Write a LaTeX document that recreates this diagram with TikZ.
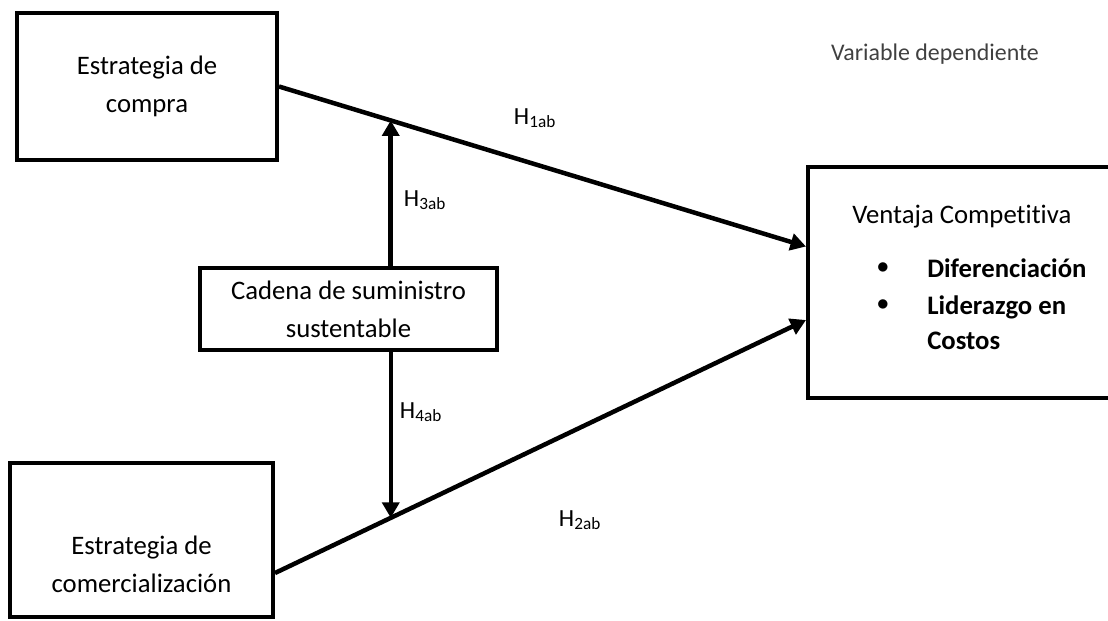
\documentclass[tikz,border=0pt]{standalone}
\usepackage{fontspec}
\setmainfont{Carlito}[Ligatures=NoCommon]
\usetikzlibrary{shapes,arrows,arrows.meta,positioning,calc}

\tikzset{
  caja/.style={draw, rectangle, line width=2.8pt, align=center, inner sep=0pt},
  flecha/.style={-{Triangle[length=11pt,width=12pt]}, line width=3.2pt},
  etiqueta/.style={inner sep=0pt}
}

\begin{document}
\begin{tikzpicture}[x=0.025cm, y=-0.025cm, font=\fontsize{19}{27}\selectfont]
\clip (0,0) rectangle (1108,620);

% Define nodes
\node[caja, minimum width=6.5cm, minimum height=3.675cm] (compra) at (147,86.5) {Estrategia de\\compra};
\node[caja, minimum width=6.575cm, minimum height=3.85cm] (comer) at (141.5,540) {};
\node[etiqueta, align=center] (comertxt) at (141.5,564) {Estrategia de\\comercialización};
\node[caja, minimum width=7.425cm, minimum height=2.05cm] (cadena) at (348.5,309) {Cadena de suministro\\sustentable};
\node[caja, minimum width=8.05cm, minimum height=5.775cm] (ventaja) at (969,282.5) {};

\node[etiqueta, anchor=west] (ventajatxt) at (852,217) {Ventaja Competitiva};
\node[etiqueta] (bala1) at (883,268) {$\bullet$};
\node[etiqueta] (bala2) at (883,305) {$\bullet$};
\node[etiqueta, anchor=west] (difer) at (927,268) {\bfseries Diferenciación};
\node[etiqueta, anchor=west, align=left, font=\fontsize{19}{25}\selectfont\bfseries] (lider) at (927,322.5) {Liderazgo en\\Costos};
\node[etiqueta, text=black!75, font=\fontsize{17}{20}\selectfont] (vardep) at (935,54) {Variable dependiente};

% Draw arrows
\coordinate (p1) at ($(ventaja.west)+(0,-36)$);
\coordinate (p2) at ($(ventaja.west)+(0,37.5)$);
\coordinate (q2) at ($(comer.east)+(0,33)$);
\coordinate (m3) at ($(compra.east)!0.212!(p1)$);
\coordinate (m4) at ($(q2)!0.218!(p2)$);

\draw[flecha] (compra.east) -- (p1);
\draw[flecha] (q2) -- (p2);
\draw[flecha] (cadena.north -| m3) -- (m3);
\draw[flecha] (cadena.south -| m4) -- (m4);

% Hypothesis labels
\node[etiqueta, font=\fontsize{17.5}{20}\selectfont] (h1) at (535,118) {H\textsubscript{1ab}};
\node[etiqueta, font=\fontsize{17.5}{20}\selectfont] (h2) at (580,520) {H\textsubscript{2ab}};
\node[etiqueta, font=\fontsize{17.5}{20}\selectfont] (h3) at (425,200) {H\textsubscript{3ab}};
\node[etiqueta, font=\fontsize{17.5}{20}\selectfont] (h4) at (421,412) {H\textsubscript{4ab}};
\end{tikzpicture}
\end{document}
